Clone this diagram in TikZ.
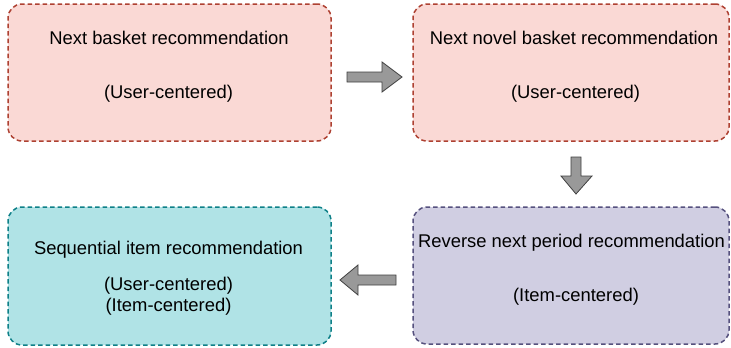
\documentclass[tikz,border=0pt]{standalone}
\usepackage{fontspec}
\setmainfont{Liberation Sans}
\definecolor{pinkfill}{HTML}{FAD9D5}
\definecolor{pinkline}{HTML}{AE4132}
\definecolor{tealfill}{HTML}{B0E3E6}
\definecolor{tealline}{HTML}{0E8088}
\definecolor{purpfill}{HTML}{D0CEE2}
\definecolor{purpline}{HTML}{56517E}
\definecolor{arrowfill}{HTML}{999999}
\begin{document}
\begin{tikzpicture}[x=1pt,y=-1pt,
  box/.style={rectangle, rounded corners=14pt, line width=1.5pt, dash pattern=on 4.5pt off 3pt, inner sep=0pt},
  pinkbox/.style={box, draw=pinkline, fill=pinkfill},
  tealbox/.style={box, draw=tealline, fill=tealfill},
  purpbox/.style={box, draw=purpline, fill=purpfill},
  lbl/.style={inner sep=0pt, font=\fontsize{18.4}{21}\selectfont, text=black, align=center},
  blockarrow/.style={draw=black!75, line width=0.8pt, fill=arrowfill, line join=miter}]
\useasboundingbox (0,0) rectangle (731,348);
\fill[white] (0,0) rectangle (731,348);

\node[pinkbox, minimum width=323pt, minimum height=137pt] (b1) at (169.5,72.5) {};
\node[pinkbox, minimum width=316pt, minimum height=137pt] (b2) at (571,72.5) {};
\node[tealbox, minimum width=323pt, minimum height=138pt] (b3) at (169.5,276) {};
\node[purpbox, minimum width=316pt, minimum height=137pt] (b4) at (571,275.5) {};

\node[lbl] (t1a) at (169,38) {Next basket recommendation};
\node[lbl] (t1b) at (168.5,94) {(User-centered)};
\node[lbl] (t2a) at (574,38) {Next novel basket recommendation};
\node[lbl] (t2b) at (575.5,94) {(User-centered)};
\node[lbl] (t3a) at (168.5,250) {Sequential item recommendation};
\node[lbl] (t3b) at (168.5,296.5) {(User-centered)\\(Item-centered)};
\node[lbl] (t4a) at (571.5,243) {Reverse next period recommendation};
\node[lbl] (t4b) at (576,297) {(Item-centered)};

% right arrow
\draw[blockarrow] (347,72) -- (382,72) -- (382,62) -- (402,77) -- (382,92) -- (382,82) -- (347,82) -- cycle;
% down arrow
\draw[blockarrow] (571,157) -- (581,157) -- (581,176) -- (592,176) -- (576,194) -- (561,176) -- (571,176) -- cycle;
% left arrow
\draw[blockarrow] (396,275) -- (358,275) -- (358,265) -- (340,280) -- (358,295) -- (358,285) -- (396,285) -- cycle;
\end{tikzpicture}
\end{document}
